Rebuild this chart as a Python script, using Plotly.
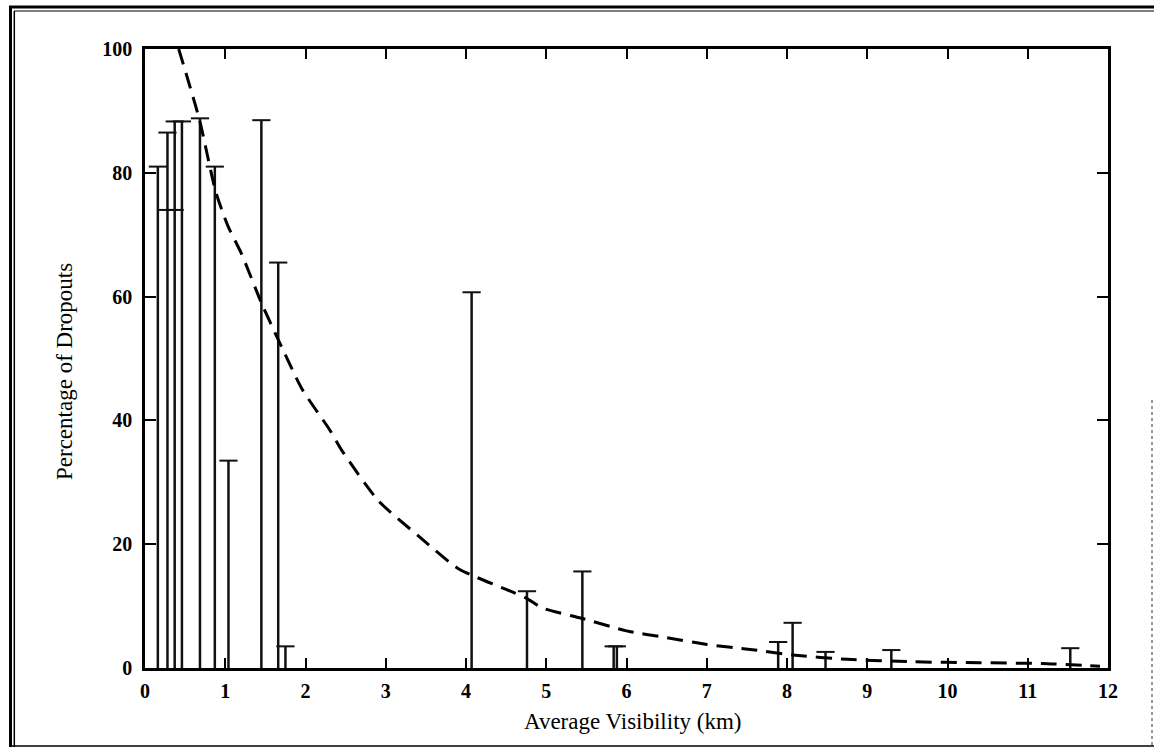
import plotly.graph_objects as go

# ---- data ----
bar_x = [0.16, 0.28, 0.37, 0.46, 0.685, 0.87, 1.04, 1.45, 1.66, 1.75,
         4.07, 4.76, 5.45, 5.84, 5.88, 7.89, 8.07, 8.48, 9.30, 11.53]
bar_top = [81.0, 86.5, 88.3, 88.3, 88.8, 81.0, 33.5, 88.5, 65.5, 3.5,
           60.7, 12.4, 15.6, 3.5, 3.5, 4.2, 7.3, 2.6, 2.9, 3.2]
low_cap_x = [0.28, 0.37]
low_cap_y = [74.0, 74.0]

curve_x = [0.42, 0.68, 0.88, 1.03, 1.20, 1.45, 1.68, 1.96, 2.30, 2.46, 2.91,
           3.41, 3.91, 4.50, 4.75, 4.95, 5.45, 6.00, 6.50, 7.00, 7.54, 8.07,
           8.75, 9.58, 10.40, 11.25, 11.90]
curve_y = [100.0, 88.5, 77.0, 71.5, 67.0, 59.0, 52.5, 45.0, 38.5, 35.0, 27.0,
           21.3, 16.0, 12.7, 11.3, 9.7, 8.0, 6.0, 4.9, 3.8, 3.0, 2.1,
           1.4, 1.0, 0.85, 0.7, 0.3]

x_ticks = list(range(0, 13))
y_ticks = [0, 20, 40, 60, 80, 100]

# ---- layout geometry ----
W, H = 1154, 747
L, R, T, B = 145, 46, 49, 79
PW, PH = W - L - R, H - T - B

def px(xp):
    return (xp - L) / PW

def py(yp):
    return 1 - (yp - T) / PH

FONT = "Liberation Serif"
INK = "#111111"

fig = go.Figure()

# vertical bars from baseline to value
seg_x, seg_y = [], []
for xv, yv in zip(bar_x, bar_top):
    seg_x += [xv, xv, None]
    seg_y += [0, yv, None]
fig.add_trace(go.Scatter(x=seg_x, y=seg_y, mode="lines",
                         line=dict(color=INK, width=2.5),
                         hoverinfo="skip", showlegend=False))
# top caps
fig.add_trace(go.Scatter(x=bar_x, y=bar_top, mode="markers",
                         marker=dict(symbol="line-ew", size=13,
                                     line=dict(color=INK, width=2)),
                         showlegend=False))
# lower caps
fig.add_trace(go.Scatter(x=low_cap_x, y=low_cap_y, mode="markers",
                         marker=dict(symbol="line-ew", size=13,
                                     line=dict(color=INK, width=2)),
                         showlegend=False))
# dashed curve
fig.add_trace(go.Scatter(x=curve_x, y=curve_y, mode="lines",
                         line=dict(color="black", width=3, dash="16px,9px",
                                   shape="spline", smoothing=0.6),
                         showlegend=False))

axis_common = dict(showgrid=False, zeroline=False, showline=True,
                   linecolor="black", linewidth=2.5, mirror="allticks",
                   ticks="inside", tickcolor="black", tickwidth=2,
                   tickfont=dict(family=FONT, size=20, color="black", weight="bold"))

fig.update_xaxes(range=[0, 12], tickvals=x_ticks,
                 ticktext=[str(v) for v in x_ticks], ticklen=10,
                 ticklabelstandoff=3, **axis_common)
fig.update_yaxes(range=[0, 100], tickvals=y_ticks,
                 ticktext=[str(v) for v in y_ticks], ticklen=11,
                 ticklabelstandoff=6, **axis_common)

# outer frame
shapes = [
    dict(type="line", x0=px(10.5), x1=px(10.5), y0=py(6), y1=py(747), line=dict(color="black", width=3)),
    dict(type="line", x0=px(14.3), x1=px(14.3), y0=py(11), y1=py(747), line=dict(color="black", width=1.5)),
    dict(type="line", x0=px(9), x1=px(1154), y0=py(7), y1=py(7), line=dict(color="black", width=3)),
    dict(type="line", x0=px(14), x1=px(1154), y0=py(11), y1=py(11), line=dict(color="black", width=1.2)),
    dict(type="line", x0=px(9), x1=px(1154), y0=py(746), y1=py(746), line=dict(color="black", width=1.5)),
    dict(type="line", x0=px(1152), x1=px(1152), y0=py(400), y1=py(747), line=dict(color="#555555", width=1.2, dash="dot")),
]
for s in shapes:
    s.update(xref="paper", yref="paper", layer="above")

annotations = [
    dict(text="Average Visibility (km)", x=px(633), y=py(721), xref="paper", yref="paper",
         showarrow=False, font=dict(family=FONT, size=23, color="black"),
         xanchor="center", yanchor="middle"),
    dict(text="Percentage of Dropouts", x=px(64), y=py(372), xref="paper", yref="paper",
         showarrow=False, textangle=-90, font=dict(family=FONT, size=23, color="black"),
         xanchor="center", yanchor="middle"),
]

fig.update_layout(width=W, height=H, margin=dict(l=L, r=R, t=T, b=B),
                  paper_bgcolor="white", plot_bgcolor="white",
                  shapes=shapes, annotations=annotations, showlegend=False)

fig.write_html("out.html")
